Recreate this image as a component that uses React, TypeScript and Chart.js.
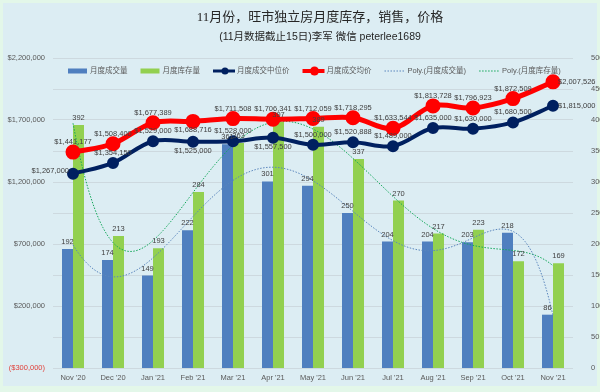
import React, { useEffect, useRef } from 'react';
import { Chart, registerables } from 'chart.js';
Chart.register(...registerables);

const categories = ["Nov '20", "Dec '20", "Jan '21", "Feb '21", "Mar '21", "Apr '21", "May '21", "Jun '21", "Jul '21", "Aug '21", "Sep '21", "Oct '21", "Nov '21"];
const salesVolume = [192, 174, 149, 222, 361, 301, 294, 250, 204, 204, 203, 218, 86];
const inventory = [392, 213, 193, 284, 363, 397, 389, 337, 270, 217, 223, 172, 169];
const medianPrice = [1267000, 1354150, 1529000, 1525000, 1528000, 1557500, 1500000, 1520888, 1489000, 1635000, 1630000, 1680500, 1815000];
const averagePrice = [1441177, 1508400, 1677389, 1688716, 1711508, 1706341, 1712059, 1718295, 1633544, 1813728, 1796923, 1872509, 2007526];
const priceTickLabels = [-300000, 200000, 700000, 1200000, 1700000, 2200000];
const titleText = '11月份，旺市独立房月度库存，销售，价格';
const subtitleText = '(11月数据截止15日)李军 微信 peterlee1689';
const seriesNames = ['月度成交量', '月度库存量', '月度成交中位价', '月度成交均价', 'Poly.(月度成交量)', 'Poly.(月度库存量)'];
const medianLabelPos = ['left', 'top', 'top', 'bottom', 'top', 'bottom', 'top', 'top', 'top', 'top', 'top', 'top', 'right'];
const averageLabelPos = ['top', 'top', 'top', 'bottom', 'top', 'top', 'top', 'top', 'top', 'top', 'top', 'top', 'right'];

const COL_BLUE = '#4f7fbf';
const COL_GREEN = '#92d050';
const COL_NAVY = '#002060';
const COL_RED = '#ff0000';
const COL_TREND_BLUE = '#5a86bd';
const COL_TREND_GREEN = '#12a85a';
const LABEL_FONT = '7.5px "Liberation Sans", Arial, sans-serif';

// Least-squares polynomial trendline (as Excel's "Poly." trendline), order 6
function polyFit(ys: number[], degree: number) {
  const n = ys.length;
  const c = (n - 1) / 2;
  const s = c;
  const ts = ys.map((_, i) => (i - c) / s);
  const m = degree + 1;
  const A: number[][] = [];
  for (let r = 0; r < m; r++) {
    const row: number[] = [];
    for (let k = 0; k < m; k++) {
      let sum = 0;
      for (let i = 0; i < n; i++) sum += Math.pow(ts[i], r + k);
      row.push(sum);
    }
    let sy = 0;
    for (let i = 0; i < n; i++) sy += ys[i] * Math.pow(ts[i], r);
    row.push(sy);
    A.push(row);
  }
  for (let col = 0; col < m; col++) {
    let piv = col;
    for (let r = col + 1; r < m; r++) if (Math.abs(A[r][col]) > Math.abs(A[piv][col])) piv = r;
    const tmp = A[col]; A[col] = A[piv]; A[piv] = tmp;
    for (let r = 0; r < m; r++) {
      if (r === col) continue;
      const f = A[r][col] / A[col][col];
      for (let k = col; k <= m; k++) A[r][k] -= f * A[col][k];
    }
  }
  const coef = A.map((row, i) => row[m] / row[i]);
  return (x: number) => {
    const t = (x - c) / s;
    let v = 0;
    for (let k = m - 1; k >= 0; k--) v = v * t + coef[k];
    return v;
  };
}

function trendPoints(ys: number[]) {
  const f = polyFit(ys, 6);
  const pts: { x: number; y: number }[] = [];
  for (let i = 0; i <= (ys.length - 1) * 20; i++) {
    const x = i / 20;
    pts.push({ x, y: f(x) });
  }
  return pts;
}

const toXY = (vals: number[]) => vals.map((v, i) => ({ x: i, y: v }));

const fmtMoney = (v: number) => (v < 0 ? '($' + Math.abs(v).toLocaleString('en-US') + ')' : '$' + v.toLocaleString('en-US'));

const backgroundPlugin = {
  id: 'bg',
  beforeDraw(chart: any) {
    const { ctx, width, height } = chart;
    ctx.save();
    ctx.fillStyle = '#e3f7e9';
    ctx.fillRect(0, 0, width, height);
    ctx.fillStyle = '#dcedf3';
    ctx.fillRect(3, 3, width - 6, height - 9);
    ctx.restore();
  },
};

const titleLegendPlugin = {
  id: 'titleLegend',
  afterDraw(chart: any) {
    const { ctx } = chart;
    ctx.save();
    ctx.textAlign = 'center';
    ctx.textBaseline = 'middle';
    ctx.fillStyle = '#262626';
    ctx.font = '13px "Liberation Serif", "Noto Sans CJK SC", serif';
    ctx.fillText(titleText, 320, 18);
    ctx.font = '10.5px "Liberation Sans", "Noto Sans CJK SC", sans-serif';
    ctx.fillText(subtitleText, 320, 37);

    // legend
    const y = 71;
    let x = 68;
    ctx.font = '7.5px "Liberation Sans", "Noto Sans CJK SC", sans-serif';
    ctx.textAlign = 'left';
    chart.data.datasets.forEach((ds: any) => {
      const kind = ds._legendKind;
      if (kind === 'bar') {
        ctx.fillStyle = ds.backgroundColor;
        ctx.fillRect(x, y - 2.5, 19, 5);
        x += 22;
      } else if (kind === 'line') {
        ctx.strokeStyle = ds.borderColor;
        ctx.lineWidth = ds.borderWidth - 1;
        ctx.beginPath();
        ctx.moveTo(x, y);
        ctx.lineTo(x + 22, y);
        ctx.stroke();
        ctx.fillStyle = ds.borderColor;
        ctx.beginPath();
        ctx.arc(x + 12, y, ds.pointRadius - 0.5, 0, Math.PI * 2);
        ctx.fill();
        x += 24;
      } else {
        ctx.strokeStyle = ds.borderColor;
        ctx.lineWidth = 1;
        ctx.setLineDash([1.5, 1.5]);
        ctx.beginPath();
        ctx.moveTo(x, y);
        ctx.lineTo(x + 21, y);
        ctx.stroke();
        ctx.setLineDash([]);
        x += 23;
      }
      ctx.fillStyle = '#595959';
      ctx.fillText(ds.label, x, y);
      x += ctx.measureText(ds.label).width + 13;
    });
    ctx.restore();
  },
};

const dataLabelPlugin = {
  id: 'dataLabels',
  afterDatasetsDraw(chart: any) {
    const { ctx } = chart;
    ctx.save();
    ctx.font = LABEL_FONT;
    ctx.fillStyle = '#404040';
    ctx.textBaseline = 'middle';
    const barSets: [number, number[]][] = [[0, salesVolume], [1, inventory]];
    barSets.forEach(([di, vals]) => {
      const meta = chart.getDatasetMeta(di);
      meta.data.forEach((el: any, i: number) => {
        ctx.textAlign = 'center';
        ctx.fillText(String(vals[i]), el.x, el.y - 7);
      });
    });
    const lineSets: [number, number[], string[]][] = [[2, medianPrice, medianLabelPos], [3, averagePrice, averageLabelPos]];
    lineSets.forEach(([di, vals, pos]) => {
      const meta = chart.getDatasetMeta(di);
      meta.data.forEach((el: any, i: number) => {
        const txt = fmtMoney(vals[i]);
        const p = pos[i];
        if (p === 'top') {
          ctx.textAlign = 'center';
          ctx.fillText(txt, el.x, el.y - 10);
        } else if (p === 'bottom') {
          ctx.textAlign = 'center';
          ctx.fillText(txt, el.x, el.y + 9);
        } else if (p === 'left') {
          ctx.textAlign = 'right';
          ctx.fillText(txt, el.x - 4, el.y - 3);
        } else {
          ctx.textAlign = 'left';
          ctx.fillText(txt, el.x + 5, el.y);
        }
      });
    });
    ctx.restore();
  },
};

export default function App() {
  const canvasRef = useRef<HTMLCanvasElement | null>(null);

  useEffect(() => {
    if (!canvasRef.current) return;
    const tickFont = { family: '"Liberation Sans", Arial, sans-serif', size: 7.5 };
    const chart = new Chart(canvasRef.current, {
      type: 'bar',
      data: {
        datasets: [
          {
            type: 'bar',
            label: seriesNames[0],
            data: toXY(salesVolume),
            backgroundColor: COL_BLUE,
            yAxisID: 'y1',
            order: 3,
            barPercentage: 1,
            categoryPercentage: 0.55,
            _legendKind: 'bar',
          } as any,
          {
            type: 'bar',
            label: seriesNames[1],
            data: toXY(inventory),
            backgroundColor: COL_GREEN,
            yAxisID: 'y1',
            order: 3,
            barPercentage: 1,
            categoryPercentage: 0.55,
            _legendKind: 'bar',
          } as any,
          {
            type: 'line',
            label: seriesNames[2],
            data: toXY(medianPrice),
            borderColor: COL_NAVY,
            backgroundColor: COL_NAVY,
            pointBackgroundColor: COL_NAVY,
            pointBorderColor: COL_NAVY,
            borderWidth: 4,
            pointRadius: 4,
            tension: 0.35,
            yAxisID: 'y',
            order: 1,
            _legendKind: 'line',
          } as any,
          {
            type: 'line',
            label: seriesNames[3],
            data: toXY(averagePrice),
            borderColor: COL_RED,
            backgroundColor: COL_RED,
            pointBackgroundColor: COL_RED,
            pointBorderColor: COL_RED,
            borderWidth: 5,
            pointRadius: 5,
            tension: 0.35,
            yAxisID: 'y',
            order: 1,
            _legendKind: 'line',
          } as any,
          {
            type: 'line',
            label: seriesNames[4],
            data: trendPoints(salesVolume),
            borderColor: COL_TREND_BLUE,
            borderWidth: 1,
            borderDash: [1.5, 1.5],
            pointRadius: 0,
            tension: 0,
            yAxisID: 'y1',
            order: 2,
            _legendKind: 'dot',
          } as any,
          {
            type: 'line',
            label: seriesNames[5],
            data: trendPoints(inventory),
            borderColor: COL_TREND_GREEN,
            borderWidth: 1,
            borderDash: [1.5, 1.5],
            pointRadius: 0,
            tension: 0,
            yAxisID: 'y1',
            order: 2,
            _legendKind: 'dot',
          } as any,
        ],
      },
      options: {
        responsive: false,
        animation: false,
        devicePixelRatio: 1,
        layout: { padding: { top: 58, left: 0, right: 0, bottom: 0 } },
        plugins: {
          legend: { display: false },
          title: { display: false },
          tooltip: { enabled: false },
        },
        scales: {
          x: {
            type: 'linear',
            offset: false,
            min: -0.5,
            max: categories.length - 0.5,
            grid: { display: false, offset: false, drawTicks: false, tickLength: 0 },
            border: { display: false },
            afterBuildTicks: (scale: any) => {
              scale.ticks = categories.map((_, i) => ({ value: i }));
            },
            ticks: {
              font: tickFont,
              color: '#595959',
              padding: 5,
              maxRotation: 0,
              autoSkip: false,
              callback: (v: any) => categories[Number(v)] ?? '',
            },
            afterFit: (scale: any) => {
              scale.height = 24;
              scale.paddingLeft = 0;
              scale.paddingRight = 0;
            },
          },
          y: {
            type: 'linear',
            position: 'left',
            min: -300000,
            max: 2200000,
            grid: { color: '#cdd9df', drawTicks: false, lineWidth: 1 },
            border: { display: false },
            ticks: {
              stepSize: 250000,
              padding: 8,
              font: tickFont,
              color: (c: any) => (c.tick && c.tick.value < 0 ? '#e0403a' : '#595959'),
              callback: (v: any) => (priceTickLabels.includes(Number(v)) ? fmtMoney(Number(v)) : ''),
            },
            afterFit: (scale: any) => { scale.width = 53; },
          },
          y1: {
            type: 'linear',
            position: 'right',
            min: 0,
            max: 500,
            grid: { display: false },
            border: { display: false },
            ticks: { stepSize: 50, padding: 10, font: tickFont, color: '#595959' },
            afterFit: (scale: any) => { scale.width = 27; },
          },
        },
      } as any,
      plugins: [backgroundPlugin, titleLegendPlugin, dataLabelPlugin],
    });
    return () => chart.destroy();
  }, []);

  return (
    <div style={{ position: 'fixed', left: 0, top: 0, width: 600, height: 392 }}>
      <canvas ref={canvasRef} width={600} height={392} style={{ width: 600, height: 392, display: 'block' }} />
    </div>
  );
}
